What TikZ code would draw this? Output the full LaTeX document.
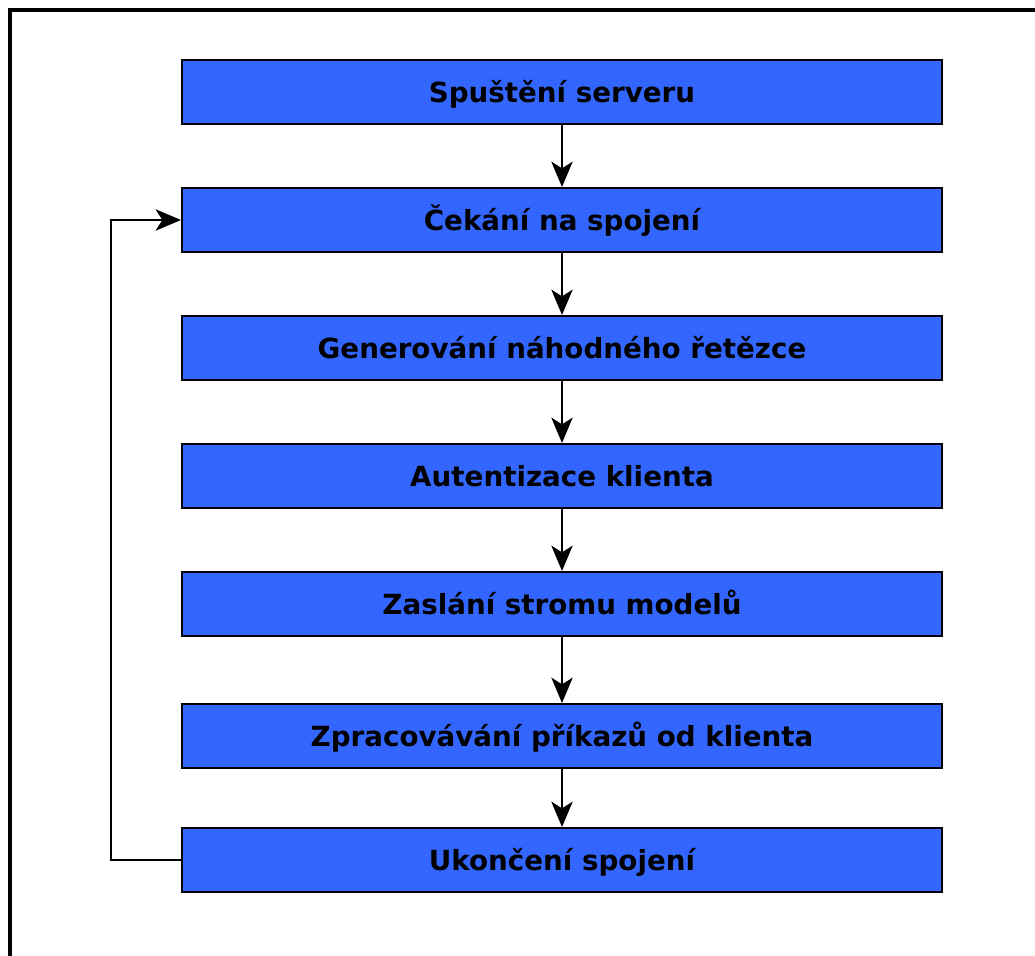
\documentclass[tikz,border=0pt]{standalone}
\usepackage{fontspec}
\setmainfont{DejaVu Sans}
\usetikzlibrary{arrows.meta,positioning}

\definecolor{boxblue}{HTML}{3366FF}

\tikzset{
  stage/.style={draw=black, line width=1.5pt, fill=boxblue, minimum width=570pt,
    minimum height=48pt, inner sep=0pt, text height=15.2pt, text depth=0pt,
    font=\bfseries\fontsize{20.8}{24}\selectfont},
  flow/.style={line width=1.6pt, -{Stealth[length=19pt,width=16pt,inset=5pt]}}
}

\begin{document}
\begin{tikzpicture}[x=0.75pt,y=-0.75pt]
\useasboundingbox (0,0) rectangle (1035,956);
% frame
\draw[line width=3pt] (1045,10) -- (10,10) -- (10,966);

\node[stage] (start) at (562,92) {Spuštění serveru};
\node[stage] (wait) at (562,220) {Čekání na spojení};
\node[stage] (gen) at (562,348) {Generování náhodného řetězce};
\node[stage] (auth) at (562,476) {Autentizace klienta};
\node[stage] (tree) at (562,604) {Zaslání stromu modelů};
\node[stage] (cmds) at (562,736) {Zpracovávání příkazů od klienta};
\node[stage] (close) at (562,860) {Ukončení spojení};

\draw[flow] (start) -- (wait);
\draw[flow] (wait) -- (gen);
\draw[flow] (gen) -- (auth);
\draw[flow] (auth) -- (tree);
\draw[flow] (tree) -- (cmds);
\draw[flow] (cmds) -- (close);
% back to waiting
\draw[flow] (close.west) -- (111,860) -- (111,220) -- (wait.west);
\end{tikzpicture}
\end{document}
